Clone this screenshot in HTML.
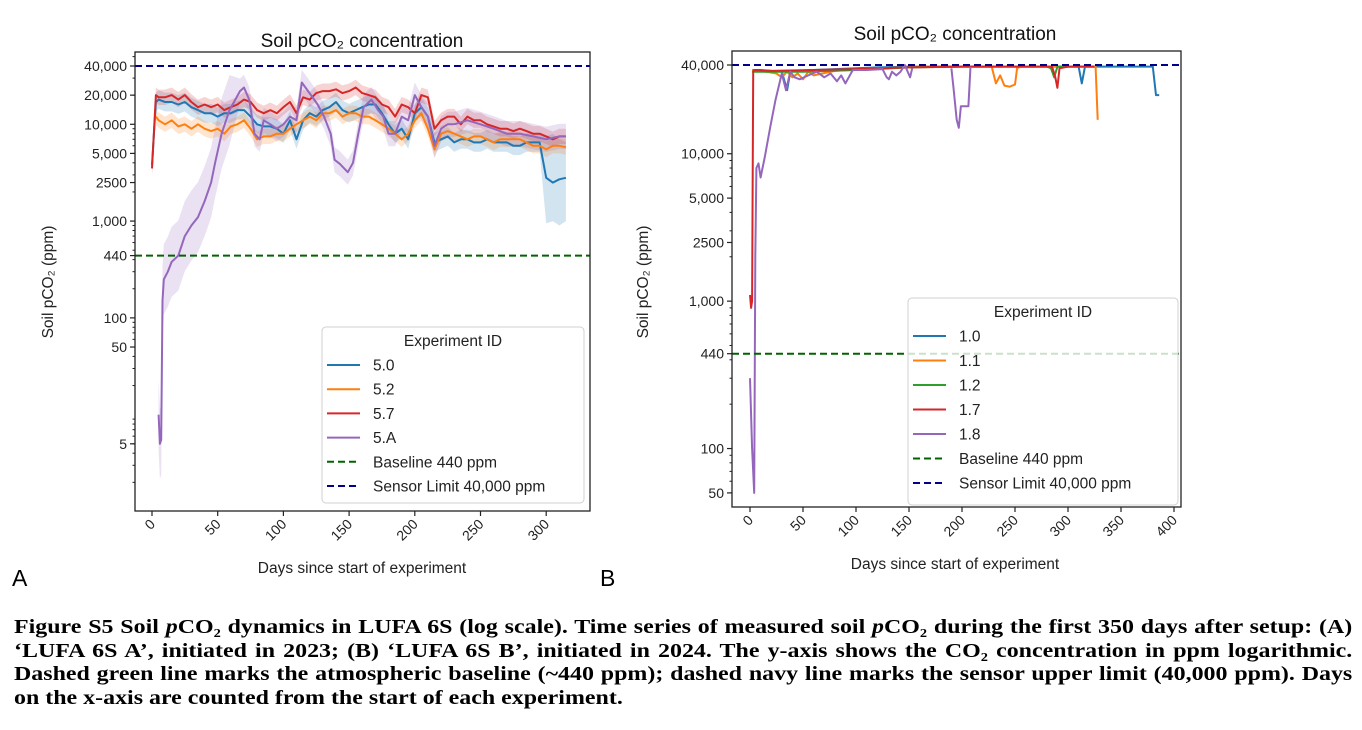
<!DOCTYPE html>
<html><head><meta charset="utf-8">
<style>
body{margin:0;background:#fff;width:1362px;height:730px;overflow:hidden;font-family:"Liberation Sans","DejaVu Sans",sans-serif}
svg{position:absolute;left:0;top:0}
.cap{position:absolute;left:14px;top:616px;width:1118px;transform:scaleX(1.197);transform-origin:0 0;font-family:"Liberation Serif",serif;font-weight:bold;font-size:20px;line-height:23.6px;color:#000}
.cap div{text-align:justify;text-align-last:justify;white-space:nowrap}
.cap div.last{text-align-last:left}
</style></head><body>
<svg id="chart" width="1362" height="610"></svg>
<div class="cap">
<div>Figure S5 Soil <i>p</i>CO₂ dynamics in LUFA 6S (log scale). Time series of measured soil <i>p</i>CO₂ during the first 350 days after setup: (A)</div>
<div>‘LUFA 6S A’, initiated in 2023; (B) ‘LUFA 6S B’, initiated in 2024. The y-axis shows the CO₂ concentration in ppm logarithmic.</div>
<div>Dashed green line marks the atmospheric baseline (~440 ppm); dashed navy line marks the sensor upper limit (40,000 ppm). Days</div>
<div class="last">on the x-axis are counted from the start of each experiment.</div>
</div>
<script>
// ---- Panel A data ----
const daysA = [0,3,5,10,15,20,25,30,35,40,45,50,55,60,65,70,75,80,85,90,95,100,105,110,115,120,125,130,135,140,145,150,155,160,165,170,175,180,185,190,195,200,205,210,215,220,225,230,235,240,245,250,255,260,265,270,275,280,285,290,295,300,305,310,315];
const a50 = [3800,17000,18000,17000,17000,16000,17000,15000,14000,13000,13000,12000,13000,13000,14000,14000,12000,10000,9500,9500,9000,8000,11000,7000,11000,13000,12000,14000,15000,17000,14000,13000,14000,15000,16000,16000,13000,10000,8000,9000,7000,13000,15000,12000,6500,7000,7500,6500,7000,7000,6500,6500,7000,6500,6500,6500,6000,6000,6500,6500,6500,2800,2500,2700,2800];
const a52 = [null,12000,11000,10000,11000,9500,10000,9000,10000,9000,8500,9000,8000,9500,10000,11000,9000,7000,7500,7500,8000,8000,9000,10000,11000,12000,11000,13000,13000,14000,12000,13000,13000,12000,12000,11000,10000,9000,8000,7000,8000,11000,13000,9000,5500,8000,8500,8000,7500,7000,7500,7500,7000,6500,7000,7000,7000,7000,6500,6000,6000,5500,6000,6000,5800];
const a57 = [3500,20000,19000,19000,20000,18000,20000,17000,15000,16000,15000,16000,14000,15000,16000,18000,17000,14000,13000,14000,13000,15000,17000,13000,19000,18000,21000,22000,22000,23000,21000,22000,24000,21000,20000,19000,16000,15000,12000,16000,15000,13000,20000,19000,9000,11000,12000,12000,10000,12000,11000,11000,10000,9500,9000,9000,8500,9000,8500,8000,8000,7500,7000,7500,7500];
const daysA5A = [5,6,7,8,9,12,15,20,25,30,35,40,45,48,53,59,67,70,74,78,82,85,90,95,100,105,110,114,121,126,131,136,139,143,149,153,157,161,167,172,176,180,185,190,195,200,205,210,215,220,225,230,240,250,260,270,280,290,300,310,315];
const a5A = [10,5,5.5,150,250,300,380,440,700,900,1100,1600,2500,4000,8000,14000,22000,24000,18000,8000,7000,11000,10000,9000,10000,12000,11000,27000,20000,16000,12000,8000,4300,3900,3200,4000,8000,15000,18000,14000,12000,8000,8000,12000,11000,20000,15000,12000,6000,9000,10000,10000,11000,10000,9000,8000,8000,7500,7000,7500,7500];
const blueTailLoVals = [950,1000,900,1000];
const blueTailHiVals = [7500,8000,7000,6500];
const ticksA = [40000,20000,10000,5000,2500,1000,440,100,50,5];
const tickLabelsA = ["40,000","20,000","10,000","5,000","2500","1,000","440","100","50","5"];
const xticksA = [0,50,100,150,200,250,300];

// ---- Panel B data ----
const b10D = [2,10,20,30,35,38,45,60,80,100,120,150,180,210,240,270,285,300,310,313,316,330,360,380,383,386];
const b10V = [37000,37000,36500,36000,27000,36000,36500,37000,37500,38000,38500,39000,39000,39000,39000,39000,39000,39000,39000,30000,39000,39000,39000,39000,25000,25000];
const b11D = [2,15,25,30,35,40,45,50,55,60,80,120,150,200,228,232,236,240,245,250,252,255,290,320,326,328];
const b11V = [37000,36000,35000,33000,36000,33000,35000,32000,36000,34000,36500,38000,38500,39000,39000,30000,34000,29000,28500,29500,38000,39000,39000,39000,39000,17000];
const b12D = [2,50,100,150,200,250,280,284,287,290,320,325];
const b12V = [36000,36000,37000,38500,39000,39000,39000,38000,33000,39000,39000,39000];
const b17D = [0,1,2,3,4,20,60,100,150,200,250,285,288,290,292,300,320,325];
const b17V = [1100,900,1000,36000,37000,36500,37000,37500,38500,39000,39000,39000,33000,28000,38000,39000,39000,39000];
const b18D = [0,2,4,5,6,8,10,14,19,24,30,34,38,42,47,55,63,70,76,82,86,90,97,110,125,129,131,134,138,142,146,151,153,null,190,192,195,197,199,201,204,206,208];
const b18V = [300,100,50,2000,8000,8600,6900,9500,15000,23000,35000,27000,36000,33000,32000,34000,36000,33000,35000,31000,34000,30000,37000,37000,37500,33000,32000,36000,34000,36000,40000,33000,38000,null,38000,28000,17000,15000,21000,21000,21000,21000,39000];
const ticksB = [40000,10000,5000,2500,1000,440,100,50];
const tickLabelsB = ["40,000","10,000","5,000","2500","1,000","440","100","50"];
const xticksB = [0,50,100,150,200,250,300,350,400];

const C = {b:"#1f77b4",o:"#ff7f0e",g:"#2ca02c",r:"#d62728",p:"#9467bd"};
const NS = "http://www.w3.org/2000/svg";
const svg = document.getElementById('chart');
function mk(tag, attrs, parent, text){
  const e = document.createElementNS(NS, tag);
  for (const k in attrs) e.setAttribute(k, attrs[k]);
  if (text !== undefined) e.textContent = text;
  (parent||svg).appendChild(e);
  return e;
}
const defs = mk('defs',{});

function panel(P){
  const g = mk('g',{});
  
  
  const X = d => P.x0 + d*P.kx;
  const Y = v => P.y40 + (Math.log10(40000) - Math.log10(v))*P.dec;
  const cp = mk('clipPath',{id:P.id+'clip'},defs);
  mk('rect',{x:P.l,y:P.t,width:P.r-P.l,height:P.b-P.t},cp);
  const plot = mk('g',{'clip-path':'url(#'+P.id+'clip)'},g);
  
  
  (P.bands||[]).forEach(s=>{
    const up=[],lo=[];
    s.d.forEach((d,i)=>{ const v=s.v[i]; if(v==null) return;
      let f = s.f(d,i); let hi=v*f, l=v/f;
      if (s.ov && s.ov(i)) { l=s.ov(i)[0]; hi=s.ov(i)[1]; }
      up.push(X(d).toFixed(1)+','+Y(hi).toFixed(1)); lo.unshift(X(d).toFixed(1)+','+Y(l).toFixed(1)); });
    const b = mk('polygon',{points:up.concat(lo).join(' '),fill:s.c,'fill-opacity':0.2,stroke:'none'},plot);
    
    
  });
  P.series.forEach(s=>{
    let segs=[[]];
    s.d.forEach((d,i)=>{ const v=s.v[i]; if(v==null||d==null){ if(segs[segs.length-1].length) segs.push([]); return;}
      segs[segs.length-1].push(X(d).toFixed(1)+','+Y(v).toFixed(1)); });
    segs.forEach(sg=>{ if(sg.length<2) return;
      const l = mk('polyline',{points:sg.join(' '),fill:'none',stroke:s.c,'stroke-width':2,'stroke-linejoin':'round'},plot);
      
      
    });
  });
  const bl = mk('line',{x1:P.l,x2:P.r,y1:Y(440),y2:Y(440),stroke:'#006400','stroke-width':2,'stroke-dasharray':'7,4'},g);
  
  
  const sl = mk('line',{x1:P.l,x2:P.r,y1:Y(40000),y2:Y(40000),stroke:'#00008b','stroke-width':2,'stroke-dasharray':'7,4'},g);
  
  
  const fr = mk('rect',{x:P.l,y:P.t,width:P.r-P.l,height:P.b-P.t,fill:'none',stroke:'#222','stroke-width':1.3},g);
  
  
  for(let e=0;e<5;e++) for(let m=2;m<10;m++){ const v=m*Math.pow(10,e); const y=Y(v); if(y<P.t||y>P.b) continue;
    mk('line',{x1:P.l-2.5,x2:P.l,y1:y,y2:y,stroke:'#222','stroke-width':1},g); }
  P.ticks.forEach((v,i)=>{ const y=Y(v);
    mk('line',{x1:P.l-5,x2:P.l,y1:y,y2:y,stroke:'#222','stroke-width':1.2},g);
    const t = mk('text',{x:P.l-8,y:y+5,'text-anchor':'end','font-size':14,fill:'#222'},g,P.tl[i]);
    
    
  });
  P.xt.forEach(d=>{ const x=X(d);
    mk('line',{x1:x,x2:x,y1:P.b,y2:P.b+5,stroke:'#222','stroke-width':1.2},g);
    const t = mk('text',{x:x+4,y:P.b+14,'text-anchor':'end','font-size':14,fill:'#222',transform:'rotate(-45 '+(x+4)+' '+(P.b+14)+')'},g,String(d));
    
    
  });
  const tt = mk('text',{x:P.tx,y:P.ty,'text-anchor':'middle','font-size':19,fill:'#111'},g,'Soil pCO₂ concentration');
  
  
  const xl = mk('text',{x:P.xlx,y:P.b+62,'text-anchor':'middle','font-size':15.5,fill:'#222'},g,'Days since start of experiment');
  
  
  const yl = mk('text',{x:P.ylx,y:P.yly,'text-anchor':'middle','font-size':15.5,fill:'#222',transform:'rotate(-90 '+P.ylx+' '+P.yly+')'},g,'Soil pCO₂ (ppm)');
  
  
  const L=P.leg;
  const lg = mk('g',{},g);
  
  
  mk('rect',{x:L.x,y:L.y,width:L.w,height:L.h,rx:4,fill:'rgba(255,255,255,0.8)',stroke:'#d0d0d0','stroke-width':1},lg);
  mk('text',{x:L.x+L.w/2,y:L.y+19,'text-anchor':'middle','font-size':15.5,fill:'#222'},lg,'Experiment ID');
  L.items.forEach((it,i)=>{ const y=L.y0+i*L.dy;
    const e = mk('g',{},lg);
    
    
    mk('line',{x1:L.x+5,x2:L.x+38,y1:y,y2:y,stroke:it[1],'stroke-width':2,'stroke-dasharray':it[2]?'7,4':'none'},e);
    mk('text',{x:L.x+51,y:y+5.5,'font-size':15.5,fill:'#222'},e,it[0]);
  });
}

panel({id:'A',name:'panel-a',l:135,r:590,t:52,b:511,x0:152,kx:65.7/50,y40:66,dec:96.8,
  ticks:ticksA,tl:tickLabelsA,xt:xticksA,tx:362,ty:47,xlx:362,ylx:53,yly:282,
  bands:[
    {n:'5-0',d:daysA,v:a50,c:C.b,f:()=>1.25,ov:i=>i>=61?[blueTailLoVals[i-61],blueTailHiVals[i-61]]:null},
    {n:'5-2',d:daysA,v:a52,c:C.o,f:()=>1.2},
    {n:'5-7',d:daysA,v:a57,c:C.r,f:()=>1.2},
    {n:'5-A',d:daysA5A,v:a5A,c:C.p,f:(d)=>d<60?2.3:1.35}
  ],
  series:[{n:'5-0',d:daysA,v:a50,c:C.b},{n:'5-2',d:daysA,v:a52,c:C.o},{n:'5-7',d:daysA,v:a57,c:C.r},{n:'5-A',d:daysA5A,v:a5A,c:C.p}],
  leg:{x:322,y:327,w:262,h:176,y0:365,dy:24.2,items:[['5.0',C.b],['5.2',C.o],['5.7',C.r],['5.A',C.p],['Baseline 440 ppm','#006400',1],['Sensor Limit 40,000 ppm','#00008b',1]]}
});
panel({id:'B',name:'panel-b',l:732,r:1181,t:51,b:507,x0:750,kx:424/400,y40:65,dec:147.4,
  ticks:ticksB,tl:tickLabelsB,xt:xticksB,tx:955,ty:40,xlx:955,ylx:648,yly:282,
  series:[{n:'1-0',d:b10D,v:b10V,c:C.b},{n:'1-1',d:b11D,v:b11V,c:C.o},{n:'1-2',d:b12D,v:b12V,c:C.g},{n:'1-7',d:b17D,v:b17V,c:C.r},{n:'1-8',d:b18D,v:b18V,c:C.p}],
  leg:{x:908,y:298,w:270,h:207,y0:336,dy:24.5,items:[['1.0',C.b],['1.1',C.o],['1.2',C.g],['1.7',C.r],['1.8',C.p],['Baseline 440 ppm','#006400',1],['Sensor Limit 40,000 ppm','#00008b',1]]}
});
const la = mk('text',{x:12,y:586,'font-size':23,fill:'#000'},svg,'A');


const lb = mk('text',{x:600,y:586,'font-size':23,fill:'#000'},svg,'B');


</script>
</body></html>
